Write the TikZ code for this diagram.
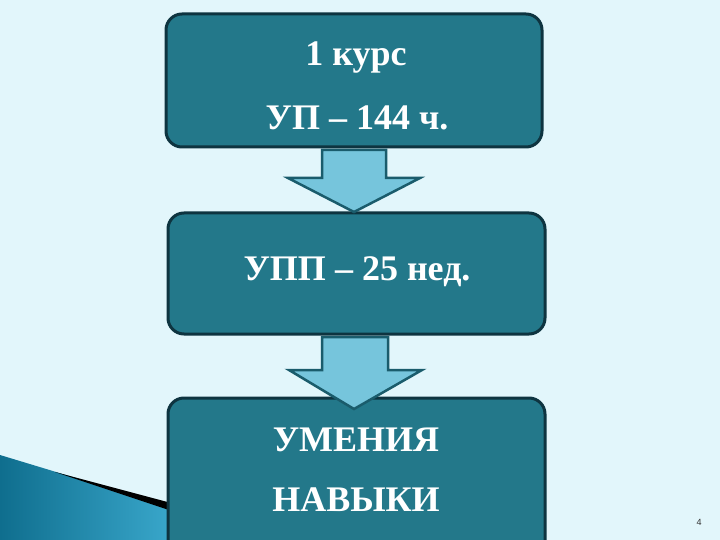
\documentclass[tikz,border=0pt]{standalone}
\usepackage{fontspec}
\setmainfont{Liberation Serif}
\newfontfamily\numfont{Liberation Sans}
\definecolor{bg}{HTML}{E2F6FB}
\definecolor{boxfill}{HTML}{23788A}
\definecolor{boxline}{HTML}{0E3440}
\definecolor{arrfill}{HTML}{76C5DC}
\definecolor{arrline}{HTML}{1A5C6C}
\definecolor{wedgeA}{HTML}{0F6E8E}
\definecolor{wedgeB}{HTML}{3AA8CC}
\begin{document}
\begin{tikzpicture}[x=1pt,y=-1pt,
  stagebox/.style={draw=boxline, line width=3pt, fill=boxfill, rounded corners=16pt},
  downarrow/.style={draw=arrline, line width=2.5pt, fill=arrfill, line join=miter},
  lbl/.style={text=white, font=\bfseries\fontsize{36}{40}\selectfont, inner sep=0pt}]
\useasboundingbox (0,0) rectangle (720,540);
\fill[bg] (0,0) rectangle (720,540);
% bottom-left wedge
\shade[left color=wedgeA, right color=wedgeB] (0,455) -- (175,508) -- (175,540) -- (0,540) -- cycle;
\fill[black] (55,472) -- (175,504) -- (175,512) -- cycle;
% boxes
\draw[stagebox] (166,14) rectangle (542,147);
\draw[stagebox] (168,213) rectangle (545,334);
\draw[stagebox] (168,398) rectangle (545,560);
% arrows
\draw[downarrow] (322,150) -- (386,150) -- (386,178) -- (420,178) -- (354,212) -- (288,178) -- (322,178) -- cycle;
\draw[downarrow] (322,337) -- (388,337) -- (388,370) -- (422,370) -- (354,409) -- (289,370) -- (322,370) -- cycle;
% texts
\node[lbl] (t1) at (356,58) {1 курс};
\node[lbl] (t2) at (357,118) {УП – 144 ч.};
\node[lbl] (t3) at (357,272) {УПП – 25 нед.};
\node[lbl] (t4) at (356,440) {УМЕНИЯ};
\node[lbl] (t5) at (356,500) {НАВЫКИ};
\node[font=\numfont\fontsize{9}{10}\selectfont, text=black!80, inner sep=0pt] (pg) at (699,522) {4};
\end{tikzpicture}
\end{document}
